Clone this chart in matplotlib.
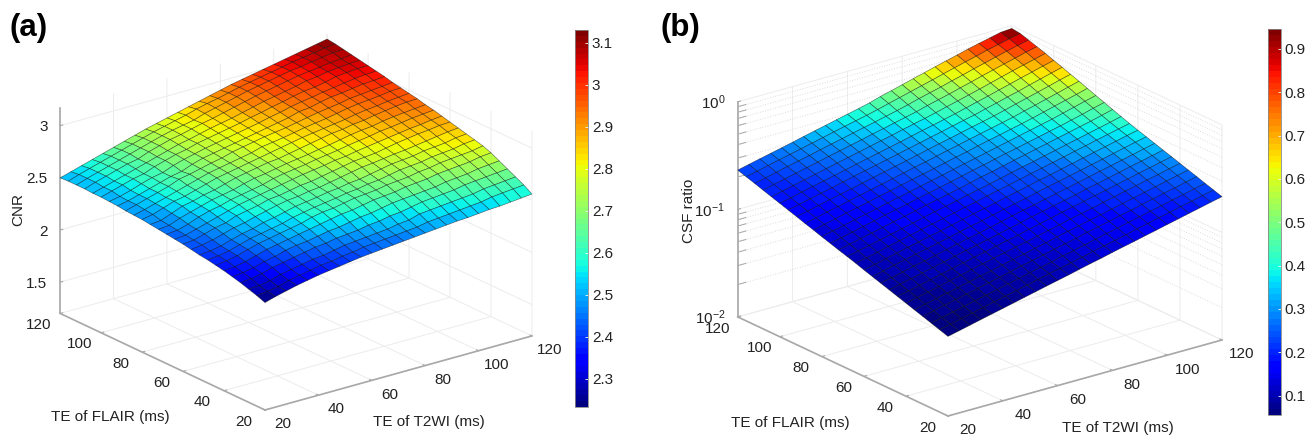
import numpy as np
import matplotlib
matplotlib.use("Agg")
import matplotlib.pyplot as plt
from matplotlib.cm import ScalarMappable
from matplotlib.colors import Normalize
from matplotlib.transforms import ScaledTranslation
from mpl_toolkits.mplot3d import proj3d

plt.rcParams['font.family'] = ['Liberation Sans', 'DejaVu Sans']
plt.rcParams['mathtext.default'] = 'regular'
plt.rcParams['grid.color'] = '#ececec'
plt.rcParams['grid.linewidth'] = 0.7

te_t2wi = [20, 24, 28, 32, 36, 40, 44, 48, 52, 56, 60, 64, 68, 72, 76, 80, 84, 88, 92, 96, 100, 104, 108, 112, 116, 120]
te_flair = [20, 24, 28, 32, 36, 40, 44, 48, 52, 56, 60, 64, 68, 72, 76, 80, 84, 88, 92, 96, 100, 104, 108, 112, 116, 120]

cnr = [
[2.23,2.26,2.285,2.31,2.33,2.35,2.365,2.38,2.395,2.41,2.42,2.43,2.44,2.45,2.46,2.47,2.48,2.49,2.50,2.505,2.515,2.525,2.53,2.54,2.55,2.56],
[2.26,2.27,2.29,2.32,2.34,2.36,2.38,2.39,2.41,2.42,2.44,2.45,2.46,2.47,2.48,2.49,2.51,2.52,2.53,2.54,2.55,2.56,2.58,2.59,2.60,2.61],
[2.285,2.29,2.31,2.34,2.36,2.38,2.40,2.41,2.43,2.45,2.46,2.47,2.48,2.49,2.51,2.52,2.55,2.56,2.57,2.58,2.59,2.60,2.62,2.63,2.64,2.65],
[2.31,2.32,2.34,2.37,2.39,2.41,2.43,2.45,2.46,2.48,2.49,2.50,2.52,2.53,2.55,2.56,2.58,2.60,2.61,2.62,2.63,2.65,2.66,2.67,2.68,2.69],
[2.33,2.34,2.36,2.39,2.41,2.44,2.46,2.47,2.49,2.51,2.52,2.54,2.56,2.57,2.59,2.61,2.62,2.63,2.64,2.65,2.67,2.68,2.69,2.71,2.72,2.73],
[2.35,2.36,2.38,2.41,2.44,2.46,2.48,2.50,2.52,2.54,2.56,2.58,2.59,2.61,2.63,2.64,2.65,2.67,2.68,2.69,2.71,2.72,2.73,2.74,2.76,2.77],
[2.365,2.38,2.40,2.43,2.46,2.48,2.50,2.52,2.54,2.57,2.59,2.60,2.62,2.64,2.65,2.66,2.68,2.69,2.70,2.72,2.73,2.75,2.76,2.77,2.78,2.80],
[2.38,2.39,2.41,2.44,2.47,2.49,2.51,2.53,2.56,2.58,2.60,2.615,2.63,2.65,2.66,2.68,2.69,2.71,2.73,2.74,2.75,2.77,2.78,2.79,2.81,2.82],
[2.39,2.40,2.42,2.45,2.48,2.50,2.53,2.55,2.575,2.60,2.615,2.63,2.65,2.66,2.68,2.69,2.71,2.73,2.75,2.76,2.77,2.79,2.80,2.81,2.83,2.84],
[2.405,2.42,2.44,2.47,2.50,2.52,2.55,2.575,2.60,2.62,2.63,2.65,2.66,2.68,2.70,2.72,2.74,2.75,2.765,2.78,2.79,2.805,2.82,2.835,2.85,2.86],
[2.42,2.43,2.46,2.49,2.51,2.55,2.57,2.59,2.62,2.63,2.65,2.67,2.68,2.70,2.72,2.74,2.76,2.77,2.78,2.80,2.82,2.835,2.85,2.86,2.875,2.88],
[2.43,2.44,2.47,2.50,2.53,2.56,2.59,2.61,2.63,2.65,2.67,2.69,2.71,2.725,2.74,2.76,2.77,2.79,2.805,2.82,2.835,2.85,2.865,2.875,2.89,2.90],
[2.44,2.45,2.48,2.52,2.55,2.57,2.60,2.62,2.64,2.66,2.69,2.71,2.725,2.74,2.76,2.775,2.79,2.81,2.825,2.84,2.86,2.87,2.885,2.90,2.91,2.92],
[2.45,2.46,2.50,2.53,2.56,2.59,2.61,2.63,2.66,2.685,2.70,2.72,2.74,2.755,2.77,2.79,2.805,2.825,2.845,2.86,2.87,2.89,2.905,2.915,2.925,2.935],
[2.46,2.47,2.51,2.55,2.57,2.60,2.62,2.65,2.68,2.70,2.72,2.74,2.75,2.77,2.79,2.81,2.83,2.85,2.86,2.88,2.89,2.91,2.925,2.94,2.95,2.955],
[2.47,2.49,2.525,2.56,2.58,2.61,2.64,2.67,2.69,2.71,2.73,2.75,2.77,2.79,2.81,2.83,2.845,2.86,2.875,2.89,2.91,2.925,2.935,2.95,2.96,2.97],
[2.475,2.50,2.53,2.56,2.59,2.62,2.65,2.68,2.70,2.72,2.74,2.76,2.79,2.805,2.82,2.84,2.86,2.875,2.89,2.91,2.93,2.945,2.955,2.965,2.98,2.985],
[2.48,2.51,2.54,2.57,2.60,2.64,2.66,2.685,2.71,2.73,2.76,2.78,2.80,2.82,2.835,2.85,2.87,2.89,2.91,2.925,2.94,2.96,2.97,2.98,2.99,3.00],
[2.49,2.51,2.54,2.57,2.60,2.63,2.65,2.69,2.72,2.74,2.76,2.78,2.80,2.82,2.84,2.86,2.88,2.91,2.92,2.945,2.965,2.975,2.99,3.005,3.01,3.02],
[2.495,2.515,2.545,2.58,2.61,2.63,2.67,2.70,2.725,2.75,2.77,2.79,2.81,2.83,2.85,2.875,2.895,2.92,2.94,2.955,2.975,2.99,3.005,3.02,3.03,3.035],
[2.50,2.53,2.56,2.59,2.61,2.65,2.68,2.71,2.73,2.76,2.78,2.80,2.82,2.84,2.865,2.885,2.91,2.93,2.955,2.975,2.985,3.005,3.03,3.04,3.05,3.05],
[2.50,2.53,2.56,2.59,2.62,2.65,2.68,2.71,2.74,2.76,2.785,2.81,2.83,2.85,2.875,2.90,2.925,2.945,2.965,2.985,3.01,3.02,3.04,3.05,3.06,3.065],
[2.505,2.54,2.57,2.60,2.63,2.65,2.69,2.72,2.75,2.77,2.795,2.82,2.84,2.865,2.89,2.915,2.94,2.96,2.98,3.00,3.02,3.035,3.045,3.06,3.07,3.08],
[2.505,2.54,2.57,2.60,2.63,2.66,2.69,2.72,2.75,2.775,2.795,2.815,2.85,2.875,2.90,2.925,2.95,2.97,2.99,3.01,3.03,3.04,3.06,3.075,3.09,3.095],
[2.505,2.54,2.57,2.60,2.63,2.66,2.69,2.72,2.75,2.775,2.80,2.825,2.855,2.88,2.90,2.925,2.95,2.97,2.99,3.01,3.03,3.05,3.065,3.08,3.10,3.11],
[2.50,2.53,2.56,2.59,2.62,2.65,2.68,2.71,2.74,2.765,2.79,2.815,2.84,2.865,2.89,2.915,2.94,2.96,2.98,3.00,3.02,3.04,3.06,3.08,3.10,3.12],
]

csf_ratio = [
[.055,.058,.0613,.0648,.0684,.0722,.0763,.0806,.0851,.0899,.0949,.100,.106,.112,.118,.125,.132,.139,.147,.155,.164,.173,.183,.193,.204,.215],
[.0583,.0614,.0649,.0686,.0724,.0765,.0808,.0854,.0901,.0952,.101,.106,.112,.118,.125,.132,.139,.147,.156,.164,.174,.183,.194,.204,.216,.228],
[.0617,.0651,.0688,.0727,.0767,.081,.0856,.0904,.0955,.101,.106,.112,.119,.125,.132,.140,.148,.156,.165,.174,.184,.194,.205,.216,.229,.241],
[.0654,.069,.0729,.077,.0813,.0858,.0907,.0958,.101,.107,.113,.119,.126,.133,.140,.149,.157,.165,.175,.184,.195,.206,.218,.229,.243,.256],
[.0692,.073,.0772,.0816,.0861,.0909,.0961,.101,.107,.113,.119,.126,.133,.141,.149,.157,.166,.175,.185,.195,.206,.218,.23,.243,.257,.271],
[.0734,.0774,.0818,.0864,.0912,.0963,.102,.108,.114,.12,.127,.133,.141,.149,.157,.167,.176,.185,.196,.207,.219,.231,.244,.257,.272,.287],
[.0777,.082,.0866,.0916,.0966,.102,.108,.114,.12,.127,.134,.141,.15,.158,.167,.177,.187,.196,.208,.219,.232,.244,.259,.273,.288,.304],
[.0823,.0868,.0917,.0969,.102,.108,.114,.121,.127,.134,.142,.15,.159,.168,.177,.187,.197,.208,.22,.232,.245,.259,.274,.289,.305,.322],
[.0872,.0919,.0972,.103,.108,.114,.121,.128,.135,.142,.15,.159,.168,.178,.187,.198,.209,.22,.233,.246,.26,.274,.29,.306,.323,.341],
[.0923,.0974,.103,.109,.115,.121,.128,.135,.143,.151,.159,.168,.178,.188,.198,.21,.222,.233,.247,.26,.275,.29,.307,.324,.343,.361],
[.0978,.103,.109,.115,.122,.128,.136,.143,.151,.16,.169,.178,.188,.199,.21,.222,.235,.247,.261,.276,.292,.308,.325,.343,.363,.382],
[.104,.109,.115,.122,.129,.136,.144,.152,.16,.169,.179,.188,.2,.211,.222,.235,.249,.262,.277,.292,.309,.326,.345,.364,.384,.405],
[.11,.116,.122,.129,.136,.144,.152,.161,.17,.179,.189,.2,.211,.223,.235,.249,.263,.277,.293,.309,.327,.345,.365,.385,.407,.432],
[.116,.123,.13,.137,.145,.153,.161,.17,.18,.19,.2,.211,.224,.237,.249,.264,.279,.294,.311,.328,.347,.366,.387,.408,.434,.461],
[.123,.13,.137,.145,.153,.162,.171,.18,.191,.201,.212,.224,.237,.251,.264,.28,.296,.311,.329,.347,.367,.387,.41,.435,.464,.492],
[.13,.138,.145,.154,.162,.171,.181,.191,.202,.213,.225,.237,.251,.266,.28,.296,.313,.33,.349,.368,.389,.41,.437,.465,.495,.525],
[.138,.146,.154,.163,.172,.181,.192,.202,.214,.226,.238,.251,.266,.281,.296,.314,.332,.349,.369,.389,.412,.438,.467,.496,.527,.562],
[.146,.154,.163,.172,.182,.192,.203,.214,.226,.239,.253,.266,.282,.298,.314,.333,.351,.37,.391,.412,.44,.467,.498,.529,.565,.601],
[.155,.163,.173,.183,.193,.203,.215,.227,.24,.253,.267,.282,.299,.316,.333,.352,.372,.392,.414,.44,.469,.499,.531,.566,.604,.641],
[.164,.173,.183,.193,.204,.216,.228,.241,.254,.268,.283,.299,.316,.334,.352,.373,.394,.415,.443,.47,.501,.531,.568,.605,.644,.684],
[.174,.183,.194,.205,.216,.228,.241,.255,.269,.284,.3,.316,.335,.354,.373,.395,.417,.444,.472,.501,.535,.569,.608,.645,.687,.728],
[.184,.194,.205,.217,.229,.242,.256,.27,.285,.301,.318,.335,.355,.375,.395,.419,.446,.473,.503,.535,.571,.609,.649,.689,.731,.778],
[.195,.206,.217,.23,.243,.256,.271,.286,.302,.319,.337,.355,.376,.397,.419,.448,.475,.504,.538,.572,.611,.65,.691,.733,.782,.824],
[.207,.218,.23,.244,.257,.271,.287,.303,.32,.338,.357,.376,.398,.421,.447,.478,.507,.538,.574,.611,.652,.692,.736,.783,.828,.873],
[.219,.231,.244,.258,.272,.287,.304,.321,.339,.358,.378,.398,.422,.45,.478,.509,.541,.575,.614,.653,.695,.737,.787,.829,.877,.924],
[.232,.245,.259,.273,.288,.304,.322,.34,.359,.379,.40,.422,.447,.48,.51,.543,.579,.615,.656,.697,.74,.788,.834,.879,.929,.945],
]

te_ticks = [20, 40, 60, 80, 100, 120]
cnr_ticks = [1.5, 2, 2.5, 3]
cnr_ticklabels = ['1.5', '2', '2.5', '3']
cnr_cbar_ticks = [2.3, 2.4, 2.5, 2.6, 2.7, 2.8, 2.9, 3.0, 3.1]
cnr_cbar_labels = ['2.3', '2.4', '2.5', '2.6', '2.7', '2.8', '2.9', '3', '3.1']
ratio_log_ticks = [-2, -1, 0]
ratio_ticklabels = ['$10^{-2}$', '$10^{-1}$', '$10^{0}$']
ratio_minor = [.02, .03, .04, .05, .06, .07, .08, .09, .2, .3, .4, .5, .6, .7, .8, .9]
ratio_cbar_ticks = [.1, .2, .3, .4, .5, .6, .7, .8, .9]
ratio_cbar_labels = ['0.1', '0.2', '0.3', '0.4', '0.5', '0.6', '0.7', '0.8', '0.9']

W, H = 1309, 437
fig = plt.figure(figsize=(W / 100, H / 100), dpi=100, facecolor='white')
jet = plt.get_cmap('jet', 64)
AXC = '#a8a8a8'
TXT = '#222222'


def fx(x, y):
    return x / W, 1 - y / H


def project(ax, x, y, z):
    a, b, _ = proj3d.proj_transform(x, y, z, ax.get_proj())
    return ax.transData.transform((a, b))


def place(ax, p0, t0, p1, t1):
    """Move the square 3D axes so that data points p0, p1 land on target pixels t0, t1."""
    s, cx, cy = 400.0, 400.0, 200.0
    for _ in range(3):
        ax.set_position([(cx - s / 2) / W, (cy - s / 2) / H, s / W, s / H])
        ax.apply_aspect()
        a0 = project(ax, *p0)
        a1 = project(ax, *p1)
        want0 = np.array([t0[0], H - t0[1]], float)
        want1 = np.array([t1[0], H - t1[1]], float)
        k = np.hypot(*(want1 - want0)) / np.hypot(*(a1 - a0))
        s *= k
        ax.set_position([(cx - s / 2) / W, (cy - s / 2) / H, s / W, s / H])
        ax.apply_aspect()
        a0 = project(ax, *p0)
        cx += want0[0] - a0[0]
        cy += want0[1] - a0[1]
    ax.set_position([(cx - s / 2) / W, (cy - s / 2) / H, s / W, s / H])


def nudge_labels(ax, axis, dx, dy, ha='center'):
    """Shift the tick labels of a 3D axis by dx, dy pixels at every draw."""
    original = axis.get_major_ticks
    shift = ScaledTranslation(dx / 100, dy / 100, fig.dpi_scale_trans)

    def patched(numticks=None):
        ticks = original(numticks)
        for t in ticks:
            t.label1.set_transform(ax.transData + shift)
            t.label1.set_ha(ha)
        return ticks
    axis.get_major_ticks = patched


def panel(z, colour, zlim, norm, aspect, ztick, zlab, F, R, nudges):
    ax = fig.add_axes([.1, .1, .3, .9], projection='3d', proj_type='ortho', computed_zorder=False)
    ax.patch.set_alpha(0)
    X, Y = np.meshgrid(te_t2wi, te_flair)
    Z = np.asarray(z, float)
    C = np.asarray(colour, float)
    cell = (C[:-1, :-1] + C[1:, :-1] + C[:-1, 1:] + C[1:, 1:]) / 4
    surf = ax.plot_surface(X, Y, Z, facecolors=jet(norm(cell)), rstride=1, cstride=1, shade=False,
                           antialiased=True, zorder=5)
    surf.set_edgecolor((0, 0, 0, .55))
    surf.set_linewidth(.45)
    ax.view_init(elev=21.2, azim=-127.5)
    ax.set_box_aspect(aspect)
    ax.set_xlim(20, 120, view_margin=0)
    ax.set_ylim(20, 120, view_margin=0)
    ax.set_zlim(*zlim, view_margin=0)
    ax.set_xticks(te_ticks)
    ax.set_yticks(te_ticks)
    ax.set_zticks(ztick)
    ax.set_zticklabels(zlab)
    for axis in (ax.xaxis, ax.yaxis, ax.zaxis):
        axis.set_pane_color((1, 1, 1, 0))
        axis.pane.set_edgecolor((1, 1, 1, 0))
        axis.line.set_color(AXC)
        axis.line.set_linewidth(1.2)
        axis._axinfo['tick']['inward_factor'] = 0
        axis._axinfo['tick']['outward_factor'] = .12
    ax.tick_params(axis='both', labelsize=11, labelcolor=TXT, pad=6, color=AXC, width=.8)
    ax.tick_params(axis='z', labelsize=11, labelcolor=TXT, pad=4, color=AXC, width=.8)
    nudge_labels(ax, ax.xaxis, nudges[0], 15)
    nudge_labels(ax, ax.yaxis, nudges[1], 16)
    nudge_labels(ax, ax.zaxis, 17, nudges[2], ha='right')
    place(ax, (20, 20, zlim[0]), F, (120, 20, zlim[0]), R)
    return ax


# panel (a)
ax_a = panel(cnr, cnr, (1.2, 3.17), Normalize(2.233, 3.13), (1, 1, .655),
             cnr_ticks, cnr_ticklabels, (265, 410), (532, 336), (3, -2, 4))

# panel (b): height on a log scale, colour on the linear ratio
log_ratio = np.log10(csf_ratio)
ax_b = panel(log_ratio, csf_ratio, (-2, 0), Normalize(.055, .946), (1, 1, .668),
             ratio_log_ticks, ratio_ticklabels, (948, 416), (1222, 340), (5, -1, 7))
for v in ratio_minor:
    lv = np.log10(v)
    ax_b.plot([20, 120], [120, 120], [lv, lv], color='#dcdcdc', ls=':', lw=.7, zorder=1)
    ax_b.plot([120, 120], [20, 120], [lv, lv], color='#dcdcdc', ls=':', lw=.7, zorder=1)
    ax_b.plot([20, 23], [120, 120], [lv, lv], color=AXC, lw=.7, zorder=2)
ax_b.set_xlim(20, 120, view_margin=0)
ax_b.set_ylim(20, 120, view_margin=0)
ax_b.set_zlim(-2, 0, view_margin=0)

# colour bars
for rect, norm, ticks, labels in (
    ((574.6, 30, 587.6, 407), Normalize(2.233, 3.13), cnr_cbar_ticks, cnr_cbar_labels),
    ((1267.5, 29, 1280.6, 415), Normalize(.055, .946), ratio_cbar_ticks, ratio_cbar_labels),
):
    x0, y0, x1, y1 = rect
    cax = fig.add_axes([x0 / W, 1 - y1 / H, (x1 - x0) / W, (y1 - y0) / H])
    cb = fig.colorbar(ScalarMappable(norm=norm, cmap=jet), cax=cax)
    cb.set_ticks(ticks)
    cb.set_ticklabels(labels)
    cb.ax.tick_params(length=2.5, width=.6, direction='in', color='white', labelsize=11, labelcolor=TXT, pad=3)
    cb.outline.set_edgecolor('#888888')
    cb.outline.set_linewidth(.6)

# axis titles and panel letters
for (x, y), s, rot in (
    ((18, 210), 'CNR', 90), ((110, 417), 'TE of FLAIR (ms)', 0), ((429, 422), 'TE of T2WI (ms)', 0),
    ((689, 211), 'CSF ratio', 90), ((790, 423), 'TE of FLAIR (ms)', 0), ((1118, 428), 'TE of T2WI (ms)', 0),
):
    fig.text(*fx(x, y), s, rotation=rot, ha='center', va='center', fontsize=11, color=TXT)
fig.text(*fx(29, 28), '(a)', ha='center', va='center', fontsize=22.5, fontweight='bold', color='black')
fig.text(*fx(680, 28), '(b)', ha='center', va='center', fontsize=22.5, fontweight='bold', color='black')

fig.savefig('out.png', dpi=100)
